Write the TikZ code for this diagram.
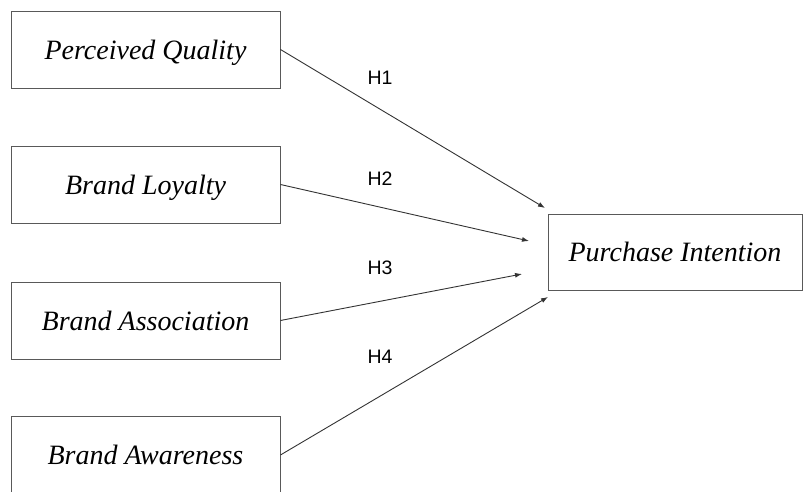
\documentclass[tikz,border=0pt]{standalone}
\usepackage{fontspec}
\setmainfont{Liberation Serif}
\newfontfamily\hfont{Liberation Sans}
\usetikzlibrary{arrows.meta}
\tikzset{
  construct/.style={draw=black!65, line width=0.9pt, minimum width=269pt, minimum height=77pt,
    inner sep=0pt, text height=25pt, text depth=5pt, font=\fontsize{28}{32}\selectfont\itshape},
  hypo/.style={draw=black!80, line width=0.9pt, -{Latex[length=7pt,width=5pt]}},
  hlabel/.style={font=\hfont\fontsize{19.5}{22}\selectfont}
}
\begin{document}
\begin{tikzpicture}[x=1pt,y=1pt]
        \useasboundingbox (0,0) rectangle (806,492);
        %% constructs
        \node[construct] (pq) at (145.5,442.5) {Perceived Quality};
        \node[construct] (bl) at (145.5,307.5) {Brand Loyalty};
        \node[construct] (ba) at (145.5,171.5) {Brand Association};
        \node[construct] (bw) at (145.5,37) {Brand Awareness};
        \node[construct, minimum width=254pt, minimum height=76pt] (pi) at (675,240) {Purchase Intention};
        %% arrow ends
        \coordinate (e1) at (545,284);
        \coordinate (e2) at (529,251);
        \coordinate (e3) at (522,218);
        \coordinate (e4) at (548,195);
        %% hypotheses
        \draw[hypo] (pq.east) -- (e1);
        \draw[hypo] (bl.east) -- (e2);
        \draw[hypo] (ba.east) -- (e3);
        \draw[hypo] (bw.east) -- (e4);
        \node[hlabel] (h1) at (380,414) {H1};
        \node[hlabel] (h2) at (380,313) {H2};
        \node[hlabel] (h3) at (380,224) {H3};
        \node[hlabel] (h4) at (380,135) {H4};
\end{tikzpicture}
\end{document}
